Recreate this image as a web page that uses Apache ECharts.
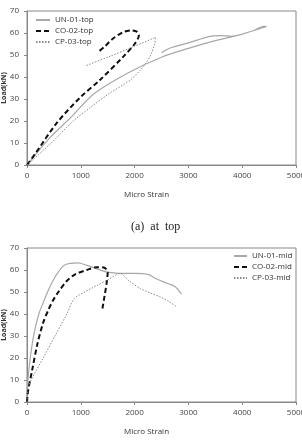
<!DOCTYPE html>
<html>
<head>
<meta charset="utf-8">
<script src="https://cdn.jsdelivr.net/npm/echarts@6/dist/echarts.min.js"></script>
<style>
html, body { margin: 0; padding: 0; background: #fff; }
#chart { width: 302px; height: 445px; }
</style>
</head>
<body>
<div id="chart"></div>
<script>
// (a) at top
const unTopStrain = [0, 200, 450, 830, 1250, 1920, 2500, 3000, 3500, 4000, 4400, 4450, 4400, 4200, 4000, 3800, 3600, 3400, 3000, 2700, 2600, 2500];
const unTopLoad = [0, 6, 13, 22, 32.5, 42.4, 49, 53, 56.5, 59.5, 62.5, 63, 63, 61, 59.5, 58.5, 58.8, 58.5, 55.5, 53.5, 52.5, 51];
const coTopStrain = [0, 150, 550, 1000, 1350, 1800, 2000, 2080, 2050, 1950, 1800, 1600, 1450, 1330];
const coTopLoad = [0, 5, 19, 31, 38.5, 49.5, 55, 59, 60.5, 61.2, 60.5, 57.5, 54, 51.5];
const cpTopStrain = [0, 450, 860, 1170, 1500, 1920, 2100, 2200, 2300, 2370, 2390, 2000, 1500, 1080];
const cpTopLoad = [0, 10, 20, 26, 32, 38.6, 43, 46, 50, 55, 58, 54, 49, 45];

// mid
const unMidStrain = [0, 10, 60, 130, 220, 316, 400, 480, 580, 700, 950, 1100, 1300, 1500, 1700, 2000, 2250, 2400, 2600, 2750, 2870];
const unMidLoad = [0, 8, 20, 31, 40, 46, 51, 55, 59, 62.3, 63.2, 62.2, 60.5, 59, 58.5, 58.5, 58, 56, 54, 52.5, 49];
const coMidStrain = [0, 20, 100, 190, 300, 400, 480, 583, 739, 894, 1111, 1300, 1440, 1500, 1480, 1440, 1402];
const coMidLoad = [0, 5, 15, 26, 36, 42, 46, 50, 55, 58, 60, 61.3, 61, 59, 54, 48, 42.5];
const cpMidStrain = [0, 35, 300, 520, 740, 880, 1111, 1300, 1500, 1731, 1900, 2104, 2300, 2500, 2650, 2785];
const cpMidLoad = [0, 7.5, 20, 30, 40, 47, 50.5, 53, 55.5, 58.4, 55, 51.6, 49.5, 47.5, 45.5, 43.2];

const xTicks = [0, 1000, 2000, 3000, 4000, 5000];
const yTicks = [0, 10, 20, 30, 40, 50, 60, 70];

const zip = (xs, ys) => xs.map((x, i) => [x, ys[i]]);

const labelFont = { fontFamily: 'Open Sans', fontSize: 8, color: '#444' };

function xAxis (gridIndex) {
  return {
    gridIndex: gridIndex,
    type: 'value',
    min: xTicks[0],
    max: xTicks[xTicks.length - 1],
    interval: 1000,
    name: 'Micro Strain',
    nameLocation: 'middle',
    nameGap: 26,
    nameMoveOverlap: false,
    nameTextStyle: { fontFamily: 'Open Sans', fontSize: 8, color: '#333', padding: [0, 30, 0, 0] },
    axisLine: { lineStyle: { color: '#888' } },
    axisTick: { show: true, length: 3, lineStyle: { color: '#888' } },
    splitLine: { show: false },
    axisLabel: Object.assign({ margin: 7, formatter: v => String(v) }, labelFont)
  };
}

function yAxis (gridIndex) {
  return {
    gridIndex: gridIndex,
    type: 'value',
    min: yTicks[0],
    max: yTicks[yTicks.length - 1],
    interval: 10,
    name: 'Load(kN)',
    nameLocation: 'middle',
    nameGap: 20,
    nameMoveOverlap: false,
    nameTextStyle: { fontFamily: 'Open Sans', fontSize: 7, fontWeight: 'bold', color: '#333' },
    axisLine: { show: true, lineStyle: { color: '#888' } },
    axisTick: { show: true, length: 3, lineStyle: { color: '#888' } },
    splitLine: { show: false },
    axisLabel: Object.assign({ margin: 8 }, labelFont)
  };
}

const unStyle = { color: '#a8a8a8', width: 1.2, type: 'solid' };
const coStyle = { color: '#111', width: 2, type: [5, 3] };
const cpStyle = { color: '#8a8a8a', width: 1, type: [1.5, 1.5] };

function line (name, data, style, idx) {
  return {
    name: name,
    type: 'line',
    xAxisIndex: idx,
    yAxisIndex: idx,
    data: data,
    symbol: 'none',
    smooth: 0.3,
    color: style.color,
    lineStyle: style
  };
}

const legendText = { fontFamily: 'Open Sans', fontSize: 8, color: '#333' };

const option = {
  animation: false,
  title: {
    text: '(a)  at  top',
    left: 126,
    top: 216,
    textStyle: { fontFamily: 'Liberation Serif', fontSize: 12, fontWeight: 'normal', color: '#222' }
  },
  grid: [
    { left: 27, top: 11, width: 269, height: 154, show: true, borderColor: '#888', borderWidth: 1, outerBoundsMode: 'none', containLabel: false },
    { left: 27, top: 248, width: 269, height: 154, show: true, borderColor: '#888', borderWidth: 1, outerBoundsMode: 'none', containLabel: false }
  ],
  xAxis: [xAxis(0), xAxis(1)],
  yAxis: [yAxis(0), yAxis(1)],
  legend: [
    {
      data: ['UN-01-top', 'CO-02-top', 'CP-03-top'],
      orient: 'vertical',
      left: 35,
      top: 16,
      itemWidth: 14,
      itemHeight: 8,
      itemGap: 3,
      itemStyle: { opacity: 0 },
      textStyle: legendText,
      padding: 0
    },
    {
      data: ['UN-01-mid', 'CO-02-mid', 'CP-03-mid'],
      orient: 'vertical',
      left: 233,
      top: 252,
      itemWidth: 13,
      itemHeight: 8,
      itemGap: 3,
      itemStyle: { opacity: 0 },
      textStyle: legendText,
      padding: 0
    }
  ],
  series: [
    line('UN-01-top', zip(unTopStrain, unTopLoad), unStyle, 0),
    line('CO-02-top', zip(coTopStrain, coTopLoad), coStyle, 0),
    line('CP-03-top', zip(cpTopStrain, cpTopLoad), cpStyle, 0),
    line('UN-01-mid', zip(unMidStrain, unMidLoad), unStyle, 1),
    line('CO-02-mid', zip(coMidStrain, coMidLoad), coStyle, 1),
    line('CP-03-mid', zip(cpMidStrain, cpMidLoad), cpStyle, 1)
  ]
};

const chart = echarts.init(document.getElementById('chart'));
chart.setOption(option);
</script>
</body>
</html>
